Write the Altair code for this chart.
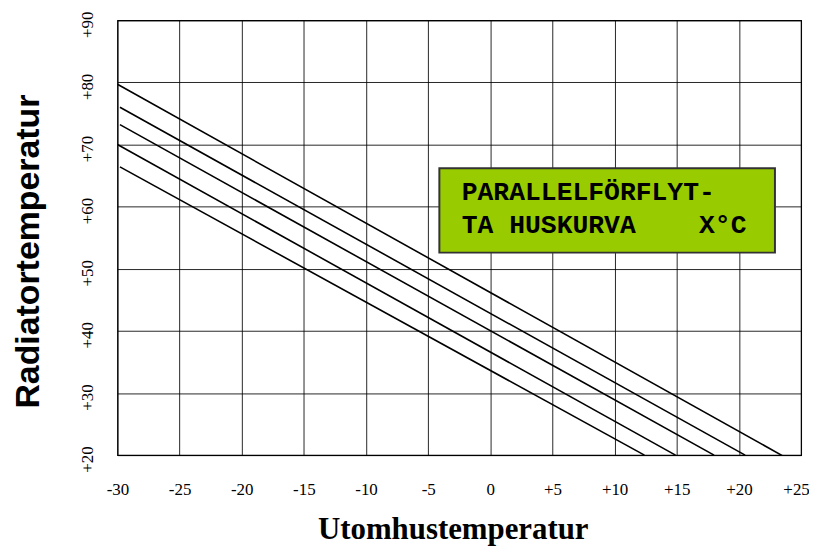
import altair as alt
import pandas as pd

# Heating curves (parallel shifted "huskurvor")
curve_id = ["k1", "k2", "k3", "k4", "k5"]
x_start = [-30.0, -29.8, -29.8, -30.0, -29.8]
y_start = [79.7, 76.0, 73.2, 70.0, 66.4]
x_end = [23.6, 20.5, 18.0, 14.9, 12.4]
y_end = [19.8, 20.0, 20.0, 20.0, 20.0]

x_ticks = [-30, -25, -20, -15, -10, -5, 0, 5, 10, 15, 20, 25]
y_ticks = [20, 30, 40, 50, 60, 70, 80, 90]

# Info box
box_x = [-4.1]
box_x2 = [22.9]
box_y = [52.6]
box_y2 = [66.2]
box_lines = ["PARALLELFÖRFLYT-", "TA HUSKURVA\u00a0\u00a0\u00a0\u00a0X°C"]
box_text_x = [-2.3, -2.3]
box_text_y = [61.1, 55.8]

rows = []
for i, c in enumerate(curve_id):
    rows.append({"curve": c, "ute": x_start[i], "rad": y_start[i], "o": 0})
    rows.append({"curve": c, "ute": x_end[i], "rad": y_end[i], "o": 1})
lines_df = pd.DataFrame(rows)
box_df = pd.DataFrame({"x": box_x, "x2": box_x2, "y": box_y, "y2": box_y2})
text_df = pd.DataFrame({"t": box_lines, "x": box_text_x, "y": box_text_y})

xscale = alt.Scale(domain=[-30, 25], nice=False, zero=False)
yscale = alt.Scale(domain=[20, 90], nice=False, zero=False)

serif = "Liberation Serif, Times New Roman, serif"

lines = alt.Chart(lines_df).mark_line(color="black", strokeWidth=1.6, clip=True).encode(
    x=alt.X("ute:Q", scale=xscale,
            axis=alt.Axis(values=x_ticks, title="Utomhustemperatur",
                          labelExpr="datum.value > 0 ? '+' + datum.value : '' + datum.value",
                          labelFont=serif, labelFontSize=17, labelColor="black",
                          labelPadding=27, ticks=False, domain=False,
                          labelOffset={"condition": {"test": "datum.value == 25", "value": -5}, "value": 0},
                          labelOverlap=False,
                          grid=True, gridColor="black", gridWidth=1, gridOpacity=0.85,
                          titleFont=serif, titleFontSize=31, titleFontWeight="bold",
                          titleColor="black", titleX=337, titleY=84, titleBaseline="alphabetic",
                          titleAlign="center", labelFlush=False)),
    y=alt.Y("rad:Q", scale=yscale,
            axis=alt.Axis(values=y_ticks, title="Radiatortemperatur",
                          labelExpr="'+' + datum.value",
                          labelFont=serif, labelFontSize=17, labelColor="black",
                          labelAngle=270, labelAlign="center", labelBaseline="bottom",
                          labelPadding=21, labelOffset=4, ticks=False, domain=False,
                          labelOverlap=False,
                          grid=True, gridColor="black", gridWidth=1, gridOpacity=0.85,
                          titleFont="Liberation Sans", titleFontSize=34, titleFontWeight="bold",
                          titleColor="black", titleX=-79, titleY=232, titleAngle=270,
                          titleAlign="center", titleBaseline="alphabetic", labelFlush=False)),
    detail="curve:N",
    order="o:Q",
)

box = alt.Chart(box_df).mark_rect(fill="#99CC00", stroke="#333333", strokeWidth=2).encode(
    x=alt.X("x:Q", scale=xscale), x2="x2:Q",
    y=alt.Y("y:Q", scale=yscale), y2="y2:Q",
)

text = alt.Chart(text_df).mark_text(
    font="Liberation Mono", fontWeight="bold", fontSize=26.5, color="black",
    align="left", baseline="alphabetic",
).encode(
    x=alt.X("x:Q", scale=xscale),
    y=alt.Y("y:Q", scale=yscale),
    text="t:N",
)

chart = alt.layer(lines, box, text).properties(
    width=687, height=437,
    autosize=alt.AutoSizeParams(type="none"),
    padding={"left": 110, "top": 11, "right": 8, "bottom": 97},
    background="white",
).configure_view(stroke="black", strokeWidth=1.2)

chart.save("out.html", embed_options={"renderer": "svg", "actions": False})
